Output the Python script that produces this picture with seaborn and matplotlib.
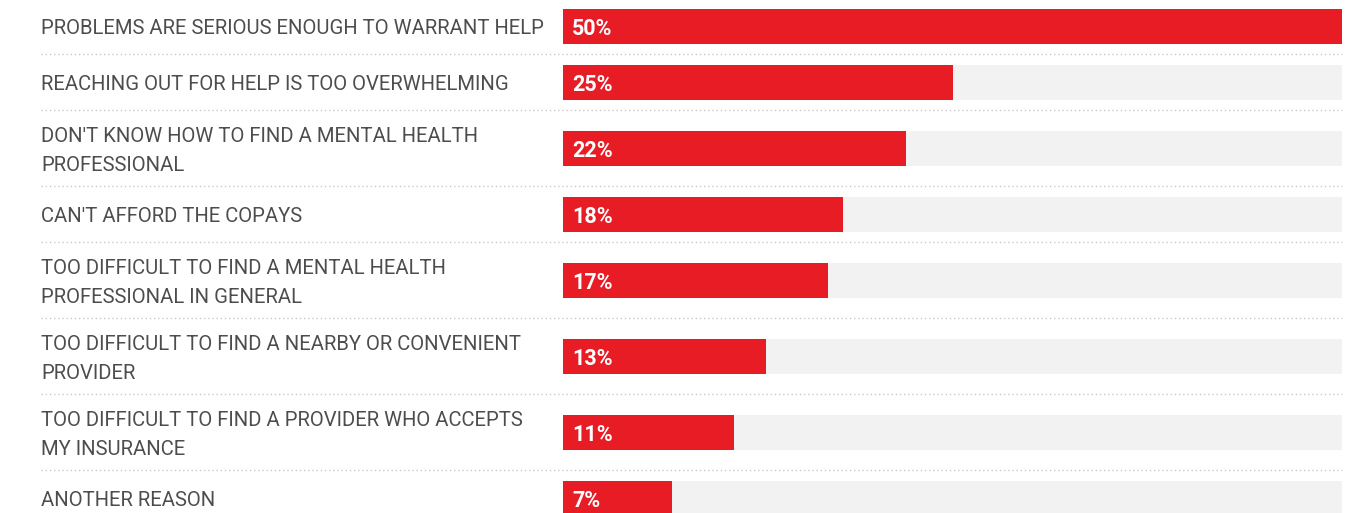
import matplotlib
matplotlib.use("Agg")
import matplotlib.pyplot as plt
import matplotlib.transforms as mtransforms
from matplotlib.lines import Line2D
import numpy as np
import pandas as pd
import seaborn as sns

# Survey answers: reasons for not seeking help
reasons = [
    "PROBLEMS ARE SERIOUS ENOUGH TO WARRANT HELP",
    "REACHING OUT FOR HELP IS TOO OVERWHELMING",
    "DON'T KNOW HOW TO FIND A MENTAL HEALTH\nPROFESSIONAL",
    "CAN'T AFFORD THE COPAYS",
    "TOO DIFFICULT TO FIND A MENTAL HEALTH\nPROFESSIONAL IN GENERAL",
    "TOO DIFFICULT TO FIND A NEARBY OR CONVENIENT\nPROVIDER",
    "TOO DIFFICULT TO FIND A PROVIDER WHO ACCEPTS\nMY INSURANCE",
    "ANOTHER REASON",
]
shares = [50, 25, 22, 18, 17, 13, 11, 7]
value_labels = ["50%", "25%", "22%", "18%", "17%", "13%", "11%", "7%"]
scale_max = 50

# Styling
RED = "#e81c25"
TRACK = "#f2f2f2"
TEXT = "#4d4d4d"
SEP = "#c8c8c8"
FONT = ["Roboto", "DejaVu Sans"]

W, H, DPI = 1358, 513, 100
sns.set_theme(style="white")
plt.rcParams["font.family"] = FONT

# Row layout (in pixel units, top to bottom): rows grow with the label line count
line_counts = [r.count("\n") + 1 for r in reasons]
row_heights = [36 + 20 * n for n in line_counts]
edges = np.concatenate([[-2], -2 + np.cumsum(row_heights)])
centers = (edges[:-1] + edges[1:]) / 2
bar_h = 35

df = pd.DataFrame({"reason": reasons, "share": shares, "pos": centers,
                   "track": [scale_max] * len(shares)})

fig = plt.figure(figsize=(W / DPI, H / DPI), dpi=DPI)
fig.patch.set_facecolor("white")
x0, x1 = 563 / W, 1342 / W
ax = fig.add_axes([x0, 0, x1 - x0, 1])

spacing = np.min(np.diff(centers))
common = dict(y="pos", orient="h", native_scale=True, width=bar_h / spacing,
              ax=ax, saturation=1, linewidth=0)
sns.barplot(data=df, x="track", color=TRACK, **common)
sns.barplot(data=df, x="share", color=RED, **common)

ax.set_xlim(0, scale_max)
ax.set_ylim(H, 0)
ax.axis("off")

# Category labels on the left (nudged down a little to sit on the bar centre)
nudge = mtransforms.ScaledTranslation(0, -3 / DPI, fig.dpi_scale_trans)
lab_tr = mtransforms.blended_transform_factory(fig.transFigure, ax.transData)
for r, c in zip(reasons, centers):
    ax.text(41 / W, c, r, transform=lab_tr + nudge, ha="left", va="center",
            fontsize=14.6, color=TEXT, linespacing=1.62, clip_on=False)

# Value labels inside the bars
val_tr = ax.transData + mtransforms.ScaledTranslation(9 / DPI, -3 / DPI, fig.dpi_scale_trans)
for v, c, s in zip(value_labels, centers, shares):
    ax.text(0, c, v, transform=val_tr, ha="left", va="center",
            fontsize=15.5, fontweight="bold", color="white")

# Dotted separators between rows
for e in edges[1:-1]:
    ax.add_line(Line2D([41 / W, 1342 / W], [e, e], transform=lab_tr,
                       color=SEP, linewidth=1.0, linestyle=(0, (1, 2)),
                       clip_on=False))

fig.savefig("out.png", dpi=DPI, facecolor="white")
